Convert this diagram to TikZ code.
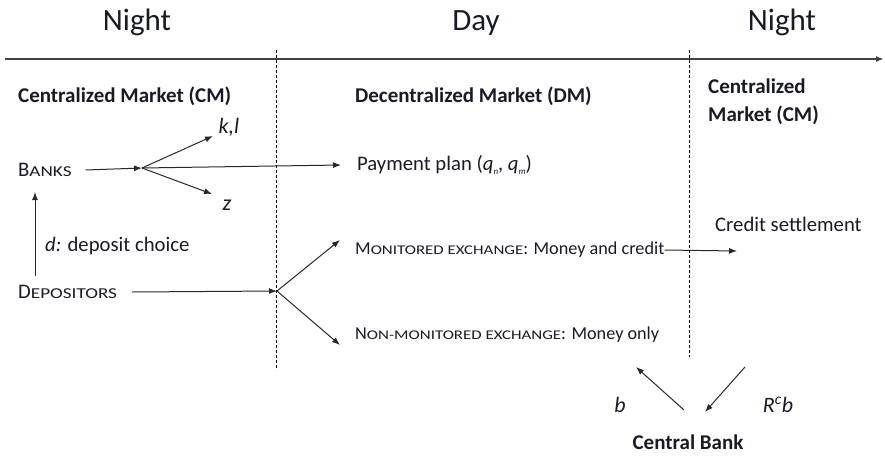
\documentclass[tikz,border=0pt]{standalone}
\usepackage{fontspec}
\setmainfont{Carlito}
\usetikzlibrary{arrows.meta}
\definecolor{ink}{RGB}{24,26,40}
\definecolor{wire}{RGB}{40,40,40}
% faked small capitals: first letter full size, the rest smaller, widened uppercase
\newcommand{\fakesc}[3][15.1]{#2\scalebox{1.27}[1]{\fontsize{#1}{#1}\selectfont #3}}
\newcommand{\tinysub}[1]{\raisebox{-0.35ex}{\fontsize{9}{9}\selectfont\itshape #1}}
\begin{document}
\begin{tikzpicture}[x=1pt,y=-1pt,
  lbl/.style={anchor=west,inner sep=0pt,text=ink,font=\fontsize{20.7}{22}\selectfont},
  exch/.style={lbl,font=\fontsize{18.2}{20}\selectfont},
  hdr/.style={anchor=west,inner sep=0pt,text=ink,font=\fontsize{21}{23}\selectfont\bfseries},
  period/.style={anchor=base,inner sep=0pt,text=ink,font=\fontsize{31}{33}\selectfont},
  var/.style={anchor=base,inner sep=0pt,text=ink,font=\fontsize{22}{24}\selectfont\itshape},
  arr/.style={-{Latex[length=8pt,width=6pt]},line width=1pt,draw=wire},
  axis/.style={-{Latex[length=8pt,width=6pt]},line width=1.6pt,draw=black!75},
  sep/.style={dash pattern=on 3pt off 2pt,line width=0.8pt,draw=black}
]
\useasboundingbox (0,0) rectangle (885,455);

% periods along the time line
\node[period] (night1) at (137,30) {Night};
\node[period] (day) at (476,30) {Day};
\node[period] (night2) at (782,30) {Night};
\coordinate (tstart) at (5,59);
\coordinate (tend) at (884,59);
\draw[axis] (tstart) -- (tend);

% period boundaries
\coordinate (sepAtop) at (276,50);
\coordinate (sepAbot) at (276,370);
\coordinate (sepBtop) at (689,50);
\coordinate (sepBbot) at (689,357);
\draw[sep] (sepAtop) -- (sepAbot);
\draw[sep] (sepBtop) -- (sepBbot);

% market headers
\node[hdr] (cm1) at (18,96) {Centralized Market (CM)};
\node[hdr] (dm) at (355,96) {Decentralized Market (DM)};
\node[hdr] (cm2a) at (708,86) {Centralized};
\node[hdr] (cm2b) at (708,115) {Market (CM)};

% banks and their choices
\node[lbl] (banks) at (18,170) {\fakesc{B}{ANKS}};
\coordinate (bk) at (142,168);
\draw[arr] ([xshift=14pt]banks.east) -- (bk);
\node[var] (kl) at (229,133) {k,l};
\node[var] (z) at (227,210) {z};
\coordinate (kltip) at (213,136);
\coordinate (ztip) at (212,194);
\draw[arr] (bk) -- (kltip);
\draw[arr] (bk) -- (ztip);
\node[lbl] (pay) at (357,165) {Payment plan (\textit{q}\tinysub{n}, \textit{q}\tinysub{m})};
\draw[arr] (bk) -- ([xshift=-16pt]pay.west);

% depositors
\node[lbl] (dep) at (18,292) {\fakesc{D}{EPOSITORS}};
\coordinate (depup) at (35,276);
\coordinate (banksdown) at (35,192);
\draw[arr] (depup) -- (banksdown);
\node[lbl] (dchoice) at (45,246) {\textit{d:} deposit choice};
\coordinate (dp) at (277,291);
\draw[arr] ([xshift=15pt]dep.east) -- (dp);

% exchange types
\node[exch] (mon) at (355,250) {\fakesc[13.3]{M}{ONITORED EXCHANGE}: Money and credit};
\node[exch] (non) at (355,335) {\fakesc[13.3]{N}{ON-MONITORED EXCHANGE}: Money only};
\coordinate (montip) at (340,240);
\coordinate (nontip) at (340,345);
\draw[arr] (dp) -- (montip);
\draw[arr] (dp) -- (nontip);

% settlement
\node[lbl] (cs) at (715,224) {Credit settlement};
\coordinate (cstip) at (737,251);
\draw[arr] (mon.east) -- (cstip);

% central bank
\node[hdr,anchor=base] (cb) at (688,449) {Central Bank};
\coordinate (bout) at (684,410);
\coordinate (btip) at (636,367);
\coordinate (rin) at (745,367);
\coordinate (rtip) at (705,412);
\draw[arr] (bout) -- (btip);
\draw[arr] (rin) -- (rtip);
\node[var] (b) at (620,412) {b};
\node[var] (rcb) at (778,412) {R\textsuperscript{c}b};
\end{tikzpicture}
\end{document}
